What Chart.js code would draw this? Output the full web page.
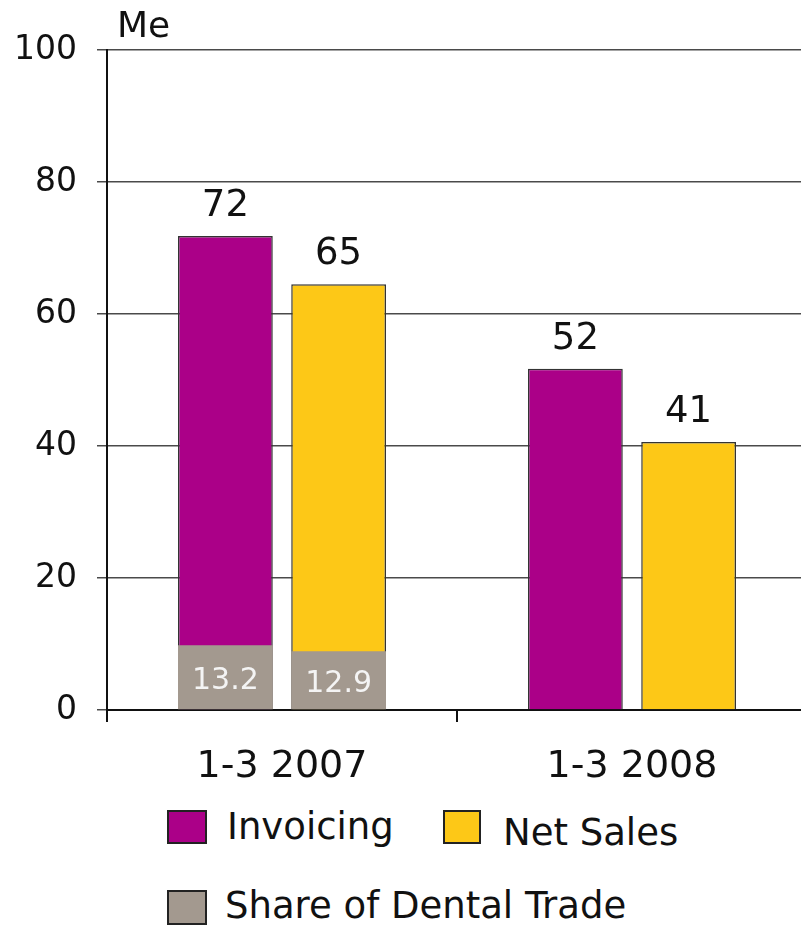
<!DOCTYPE html>
<html>
<head>
<meta charset="utf-8">
<script src="https://cdn.jsdelivr.net/npm/chart.js@4.4.0/dist/chart.umd.min.js"></script>
<style>
  html, body { margin: 0; padding: 0; background: #fff; }
  body { width: 801px; height: 925px; overflow: hidden; position: relative; font-family: 'DejaVu Sans', Verdana, sans-serif; }
  #wrap { position: absolute; left: 0; top: 0; width: 812px; height: 800px; }
  .item { position: absolute; font-size: 37px; line-height: 37px; color: #111; white-space: nowrap; }
  .box { position: absolute; box-sizing: border-box; border: 2px solid #222; }
</style>
</head>
<body>
<div id="wrap"><canvas id="chart" width="812" height="800"></canvas></div>

<div class="box" style="left:167px; top:810px; width:40px; height:34px; background:#ab0088;"></div>
<div class="item" style="left:227px; top:808px;">Invoicing</div>
<div class="box" style="left:443px; top:810px; width:38px; height:34px; background:#fdc817;"></div>
<div class="item" style="left:503px; top:814px;">Net Sales</div>
<div class="box" style="left:167px; top:890px; width:40px; height:35px; background:#a3998f;"></div>
<div class="item" style="left:225px; top:887px;">Share of Dental Trade</div>

<script>
const periods = ['1-3 2007', '1-3 2008'];
const invoicing = [71.8, 51.7];
const netSales = [64.5, 40.6];
const invoicingLabels = ['72', '52'];
const netSalesLabels = ['65', '41'];
// grey part at the foot of the 2007 bars
const shareInvoicing = [9.8, null];
const shareNetSales = [8.9, null];
const shareInvoicingLabels = ['13.2', ''];
const shareNetSalesLabels = ['12.9', ''];
const yTicks = [0, 20, 40, 60, 80, 100];

const FONT = "'DejaVu Sans', Verdana, sans-serif";

const labelPlugin = {
  id: 'labels',
  afterDatasetsDraw(chart) {
    const ctx = chart.ctx;
    ctx.save();
    ctx.textAlign = 'center';
    ctx.textBaseline = 'alphabetic';
    chart.data.datasets.forEach((ds, i) => {
      const meta = chart.getDatasetMeta(i);
      meta.data.forEach((bar, j) => {
        const txt = ds.valueLabels[j];
        if (!txt) return;
        if (ds.inside) {
          ctx.font = '30px ' + FONT;
          ctx.fillStyle = '#f4f4f4';
          ctx.fillText(txt, bar.x, bar.base - ds.inside);
        } else {
          ctx.font = '37px ' + FONT;
          ctx.fillStyle = '#111';
          ctx.fillText(txt, bar.x, bar.y - 20);
        }
      });
    });
    // unit at the top of the value axis
    ctx.textAlign = 'left';
    ctx.font = '36px ' + FONT;
    ctx.fillStyle = '#111';
    ctx.fillText('Me', chart.chartArea.left + 10, 37);
    ctx.restore();
  }
};

const barOpts = { categoryPercentage: 0.647, barPercentage: 0.837, borderColor: '#333', borderWidth: 1.5 };

new Chart(document.getElementById('chart'), {
  type: 'bar',
  data: {
    labels: periods,
    datasets: [
      { label: 'Invoicing', data: invoicing, valueLabels: invoicingLabels, stack: 'inv', order: 1,
        backgroundColor: '#ab0088', ...barOpts },
      { label: 'Net Sales', data: netSales, valueLabels: netSalesLabels, stack: 'net', order: 1,
        backgroundColor: '#fdc817', ...barOpts },
      { label: 'Share of Dental Trade', data: shareInvoicing, valueLabels: shareInvoicingLabels, inside: 20,
        stack: 'inv', order: 0, backgroundColor: '#a3998f', ...barOpts, borderWidth: 0 },
      { label: 'Share of Dental Trade', data: shareNetSales, valueLabels: shareNetSalesLabels, inside: 17,
        stack: 'net', order: 0, backgroundColor: '#a3998f', ...barOpts, borderWidth: 0 }
    ]
  },
  options: {
    responsive: false,
    animation: false,
    layout: { padding: { top: 50, right: 5, left: 0, bottom: 0 } },
    plugins: {
      legend: { display: false },
      tooltip: { enabled: false }
    },
    scales: {
      x: {
        stacked: true,
        grid: { drawOnChartArea: false, tickLength: 12, color: '#111', lineWidth: 2 },
        border: { color: '#111', width: 2 },
        ticks: { color: '#111', font: { family: FONT, size: 38 }, padding: 22, maxRotation: 0 },
        afterFit(scale) { scale.height = 90; }
      },
      y: {
        stacked: false,
        min: 0,
        max: 100,
        afterBuildTicks(scale) { scale.ticks = yTicks.map(v => ({ value: v })); },
        grid: { color: '#4a4a4a', lineWidth: 1.5, tickLength: 10 },
        border: { color: '#111', width: 2 },
        ticks: { color: '#111', font: { family: FONT, size: 33 }, padding: 20 },
        afterFit(scale) { scale.width = 107; }
      }
    }
  },
  plugins: [labelPlugin]
});
</script>
</body>
</html>
